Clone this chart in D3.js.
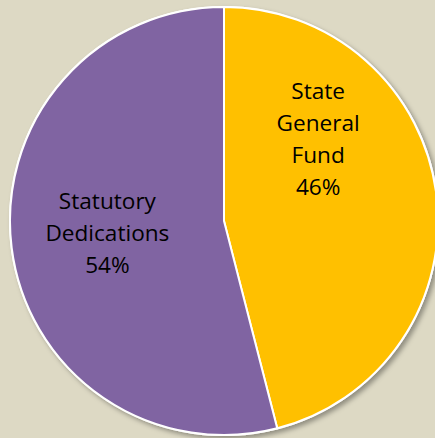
<!DOCTYPE html>
<html>
<head>
<meta charset="utf-8">
<script src="https://cdn.jsdelivr.net/npm/d3@7"></script>
<style>
html,body{margin:0;padding:0;background:#ddd9c4;overflow:hidden;}
svg{display:block;}
</style>
</head>
<body>
<svg id="chart" width="435" height="438"></svg>
<script>
const categories = ["State General Fund", "Statutory Dedications"];
const labelLines = [["State", "General", "Fund"], ["Statutory", "Dedications"]];
const values = [46, 54];
const colors = ["#ffc000", "#8064a2"];

const W = 435, H = 438;
const cx = 224, cy = 221, R = 214;
const svg = d3.select("#chart");

const defs = svg.append("defs");
const f = defs.append("filter").attr("id", "sh").attr("x", "-10%").attr("y", "-10%").attr("width", "130%").attr("height", "130%");
f.append("feDropShadow").attr("dx", 3).attr("dy", 3).attr("stdDeviation", 2.5).attr("flood-color", "#000").attr("flood-opacity", 0.35);

const data = categories.map((c, i) => ({cat: c, value: values[i], color: colors[i], lines: labelLines[i]}));
const pie = d3.pie().value(d => d.value).sort(null);
const arc = d3.arc().innerRadius(0).outerRadius(R);
const arcs = pie(data);

const g = svg.append("g").attr("transform", `translate(${cx},${cy})`);
g.append("circle").attr("r", R).attr("fill", "#fff").attr("stroke", "#fff").attr("stroke-width", 2).attr("filter", "url(#sh)");
g.selectAll("path.slice").data(arcs).join("path")
  .attr("class", "slice")
  .attr("d", arc)
  .attr("fill", d => d.data.color)
  .attr("stroke", "#fff")
  .attr("stroke-width", 2)
  .attr("stroke-linejoin", "round");

// label anchor positions (fractions of radius), layout only
const labelOffsets = [[0.44, -0.385], [-0.545, 0.054]];
const lineH = 32;
arcs.forEach((a, i) => {
  const lines = a.data.lines.concat([Math.round(a.value / d3.sum(values) * 100) + "%"]);
  const x = labelOffsets[i][0] * R;
  const y = labelOffsets[i][1] * R;
  const t = g.append("text")
    .attr("x", x).attr("y", y)
    .attr("text-anchor", "middle")
    .attr("font-family", "'Open Sans', sans-serif")
    .attr("font-size", 22.6)
    .attr("fill", "#000");
  const n = lines.length;
  lines.forEach((ln, k) => {
    t.append("tspan").attr("x", x)
      .attr("y", y + (k - (n - 1) / 2) * lineH + 8)
      .text(ln);
  });
});
</script>
</body>
</html>
